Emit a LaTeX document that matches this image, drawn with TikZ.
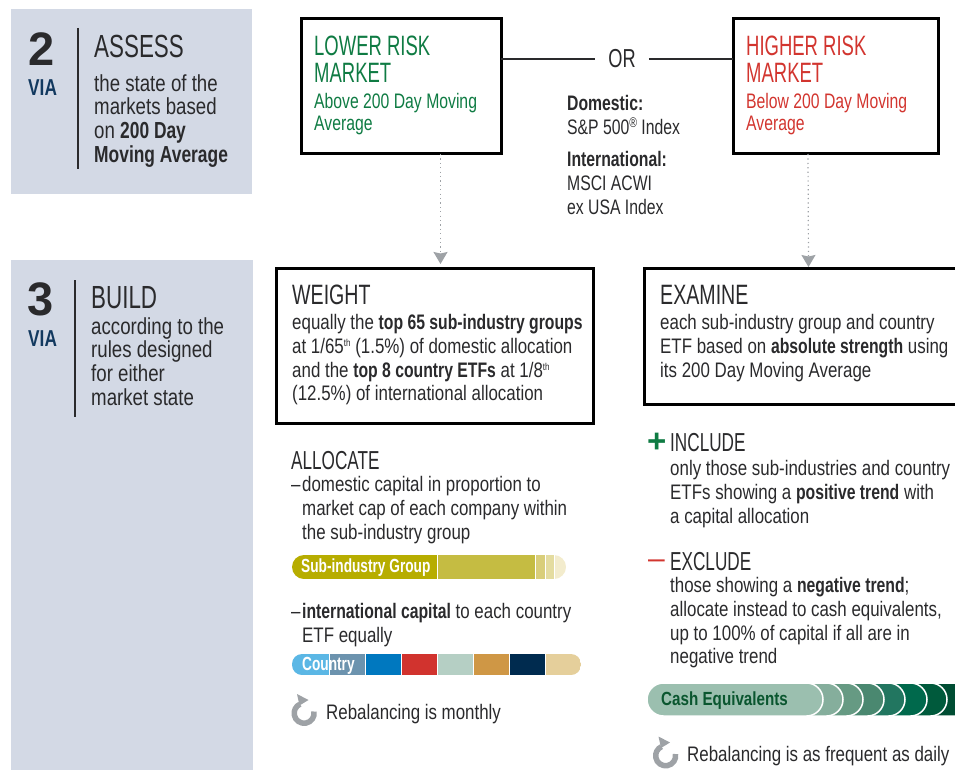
\documentclass[tikz,border=0pt]{standalone}
\usepackage{fontspec}
\usepackage{xcolor}
\setmainfont[FakeStretch=0.805, BoldFeatures={FakeStretch=0.75}]{Liberation Sans}
\newfontfamily\numfont{Liberation Sans}
\newfontfamily\headfont[FakeStretch=0.70]{Liberation Sans}
\newfontfamily\subfont[FakeStretch=0.66]{Liberation Sans}
\newfontfamily\barfont[FakeStretch=0.72]{Liberation Sans}
\newfontfamily\cashfont[FakeStretch=0.80]{Liberation Sans}
\newfontfamily\capsfont[FakeStretch=0.75]{Liberation Sans}
\usetikzlibrary{arrows.meta, positioning}

\definecolor{panelgray}{HTML}{D3D9E5}
\definecolor{inkblack}{HTML}{2A2A2C}
\definecolor{vianavy}{HTML}{12395F}
\definecolor{lowgreen}{HTML}{0F7B43}
\definecolor{highred}{HTML}{D2352F}
\definecolor{arrowgray}{HTML}{9EA2A6}

\newcommand{\supmark}[2][10]{\raisebox{7pt}{\fontsize{#1}{#1}\selectfont #2}}
\newcommand{\dashmark}{\makebox[11pt][l]{–}}

\tikzset{
    every node/.style={inner sep=0pt, anchor=north west, align=left, text=inkblack},
    bodytxt/.style={font=\fontsize{21}{23.8}\selectfont},
    sidetxt/.style={font=\fontsize{23.2}{23.8}\selectfont},
    capstxt/.style={font=\capsfont\fontsize{21}{23.8}\selectfont},
    boxtxt/.style={font=\capsfont\fontsize{21}{21.6}\selectfont},
    headtxt/.style={font=\headfont\fontsize{28}{28}\selectfont},
    tallhead/.style={font=\headfont\fontsize{32}{32}\selectfont},
    markethead/.style={font=\subfont\fontsize{28}{27}\selectfont},
    subhead/.style={font=\subfont\fontsize{26}{26}\selectfont},
    bignum/.style={font=\numfont\bfseries\fontsize{47}{47}\selectfont},
    viatxt/.style={font=\bfseries\fontsize{23}{23}\selectfont, text=vianavy},
    barlabel/.style={font=\barfont\bfseries\fontsize{19}{19}\selectfont},
    frame/.style={draw=black, line width=3pt, outer sep=0pt},
    dotarrow/.style={draw=arrowgray, line width=1.2pt, dash pattern=on 1.2pt off 3.2pt, -{Triangle[length=12pt, width=14pt, inset=1.5pt]}},
    rebal/.pic={
        \draw[arrowgray, line width=5.5pt] (10,-2) arc[start angle=10, end angle=-245, radius=10pt];
        \fill[arrowgray] (-7,-19.5) -- (4.5,-13.5) -- (-4.5,-8) -- cycle;
    }
}

\begin{document}
\begin{tikzpicture}[x=1pt, y=-1pt]
    \useasboundingbox (0,0) rectangle (955,770);

    % side panels
    \fill[panelgray] (11,9) rectangle (252,194);
    \fill[panelgray] (11,260) rectangle (253,770);
    \draw[inkblack, line width=1.2pt] (78,28) -- (78,169);
    \draw[inkblack, line width=1.2pt] (75,280) -- (75,417);

    \node[bignum] (numtwo) at (28,32) {2};
    \node[viatxt] (viatwo) at (28,79) {VIA};
    \node[tallhead] (assesshead) at (94,35) {ASSESS};
    \node[sidetxt] (assesstxt) at (94,74) {the state of the\\markets based\\on \textbf{200 Day}\\\textbf{Moving Average}};

    \node[bignum] (numthree) at (27,282) {3};
    \node[viatxt] (viathree) at (28,330) {VIA};
    \node[tallhead] (buildhead) at (91,286) {BUILD};
    \node[sidetxt] (buildtxt) at (91,317) {according to the\\rules designed\\for either\\market state};

    % market boxes
    \node[frame, minimum width=200pt, minimum height=135pt] (lowerbox) at (301,19) {};
    \node[frame, minimum width=205pt, minimum height=135pt] (higherbox) at (733,19) {};
    \node[markethead, text=lowgreen] (lowerhead) at (314,36) {LOWER RISK\\MARKET};
    \node[boxtxt, text=lowgreen] (lowertxt) at (314,93) {Above 200 Day Moving\\Average};
    \node[markethead, text=highred] (higherhead) at (746,36) {HIGHER RISK\\MARKET};
    \node[boxtxt, text=highred] (highertxt) at (746,93) {Below 200 Day Moving\\Average};

    \node[anchor=center, inner sep=13pt, font=\headfont\fontsize{26}{26}\selectfont] (ornode) at (622,59) {OR};
    \draw[inkblack, line width=2pt] (lowerbox.east |- ornode) -- (ornode);
    \draw[inkblack, line width=2pt] (ornode) -- (higherbox.west |- ornode);

    \node[capstxt] (indextxt) at (567,95) {\textbf{Domestic:}\\S\&P 500\supmark[14]{\textregistered} Index};
    \node[capstxt] (intltxt) at (567,151) {\textbf{International:}\\MSCI ACWI\\ex USA Index};

    % build boxes
    \node[frame, minimum width=317pt, minimum height=155pt] (weightbox) at (276,268) {};
    \node[frame, minimum width=330pt, minimum height=136pt] (examinebox) at (644,268) {};
    \node[headtxt] (weighthead) at (292,285) {WEIGHT};
    \node[bodytxt] (weighttxt) at (292,314) {equally the \textbf{top 65 sub-industry groups}\\at 1/65\supmark{th} (1.5\%) of domestic allocation\\and the \textbf{top 8 country ETFs} at 1/8\supmark{th}\\(12.5\%) of international allocation};
    \node[headtxt] (examinehead) at (660,285) {EXAMINE};
    \node[bodytxt] (examinetxt) at (660,314) {each sub-industry group and country\\ETF based on \textbf{absolute strength} using\\its 200 Day Moving Average};

    \draw[dotarrow] ([xshift=39.5pt]lowerbox.south) -- ([xshift=6pt, yshift=4pt]weightbox.north);
    \draw[dotarrow] ([xshift=-27.5pt]higherbox.south) -- ([xshift=-0.5pt, yshift=1pt]examinebox.north);

    % allocate column
    \node[subhead] (allocatehead) at (291,451) {ALLOCATE};
    \node[bodytxt] (allocatetxt) at (291,476) {\dashmark domestic capital in proportion to\\\hspace*{11pt}market cap of each company within\\\hspace*{11pt}the sub-industry group};
    \begin{scope}
        \clip[rounded corners=12pt] (292,555) rectangle (566,579);
        \foreach \xa/\xb/\barcol in {292/437/B7AD00, 438/535/C5BC42, 536/545/D9CE7A, 546/554/E4DCA0, 555/566/F3ECCD} {
            \definecolor{barcol}{HTML}{\barcol}
            \fill[barcol] (\xa,555) rectangle (\xb,579);
        }
    \end{scope}
    \node[barlabel, text=white] (sublabel) at (301,559) {Sub-industry Group};
    \node[bodytxt] (intlalloc) at (291,603) {\dashmark\textbf{international capital} to each country\\\hspace*{11pt}ETF equally};
    \begin{scope}
        \clip[rounded corners=10pt] (292,654) rectangle (581,675);
        \foreach \xa/\xb/\barcol in {292/328.5/5BB7E5, 329.5/364.5/6C93AE, 365.5/400.5/0078BF, 401.5/436.5/D1332E, 437.5/472.5/B5CFC4, 473.5/508.5/CF9745, 509.5/544.5/002B4F, 545.5/581/E5CF9B} {
            \definecolor{barcol}{HTML}{\barcol}
            \fill[barcol] (\xa,654) rectangle (\xb,675);
        }
    \end{scope}
    \node[barlabel, text=white] (countrylabel) at (302,657) {Country};
    \pic at (304,713.5) {rebal};
    \node[bodytxt] (monthlytxt) at (326,704) {Rebalancing is monthly};

    % include / exclude column
    \node[anchor=west, font=\numfont\bfseries\fontsize{33}{33}\selectfont, text=lowgreen] (plusmark) at (647,443) {+};
    \node[subhead] (includehead) at (670,433) {INCLUDE};
    \node[bodytxt] (includetxt) at (670,460) {only those sub-industries and country\\ETFs showing a \textbf{positive trend} with\\a capital allocation};
    \node[anchor=west, font=\numfont\fontsize{30}{30}\selectfont, text=highred] (minusmark) at (648,564) {–};
    \node[subhead] (excludehead) at (670,552) {EXCLUDE};
    \node[bodytxt] (excludetxt) at (670,577) {those showing a \textbf{negative trend};\\allocate instead to cash equivalents,\\up to 100\% of capital if all are in\\negative trend};
    \foreach \xb/\barcol in {985/004D33, 947/005A3C, 927/00694C, 905/227660, 884/4A8870, 863/669A83, 843/85AE9C, 823/9BBFAF} {
        \definecolor{barcol}{HTML}{\barcol}
        \draw[fill=barcol, draw=white, line width=1.5pt, rounded corners=16.5pt] (647,683) rectangle (\xb,716);
    }
    \node[font=\cashfont\bfseries\fontsize{19}{19}\selectfont, text=black!30!lowgreen] (cashlabel) at (661,692) {Cash Equivalents};
    \pic at (665.5,756) {rebal};
    \node[bodytxt] (dailytxt) at (687,746) {Rebalancing is as frequent as daily};
\end{tikzpicture}
\end{document}
